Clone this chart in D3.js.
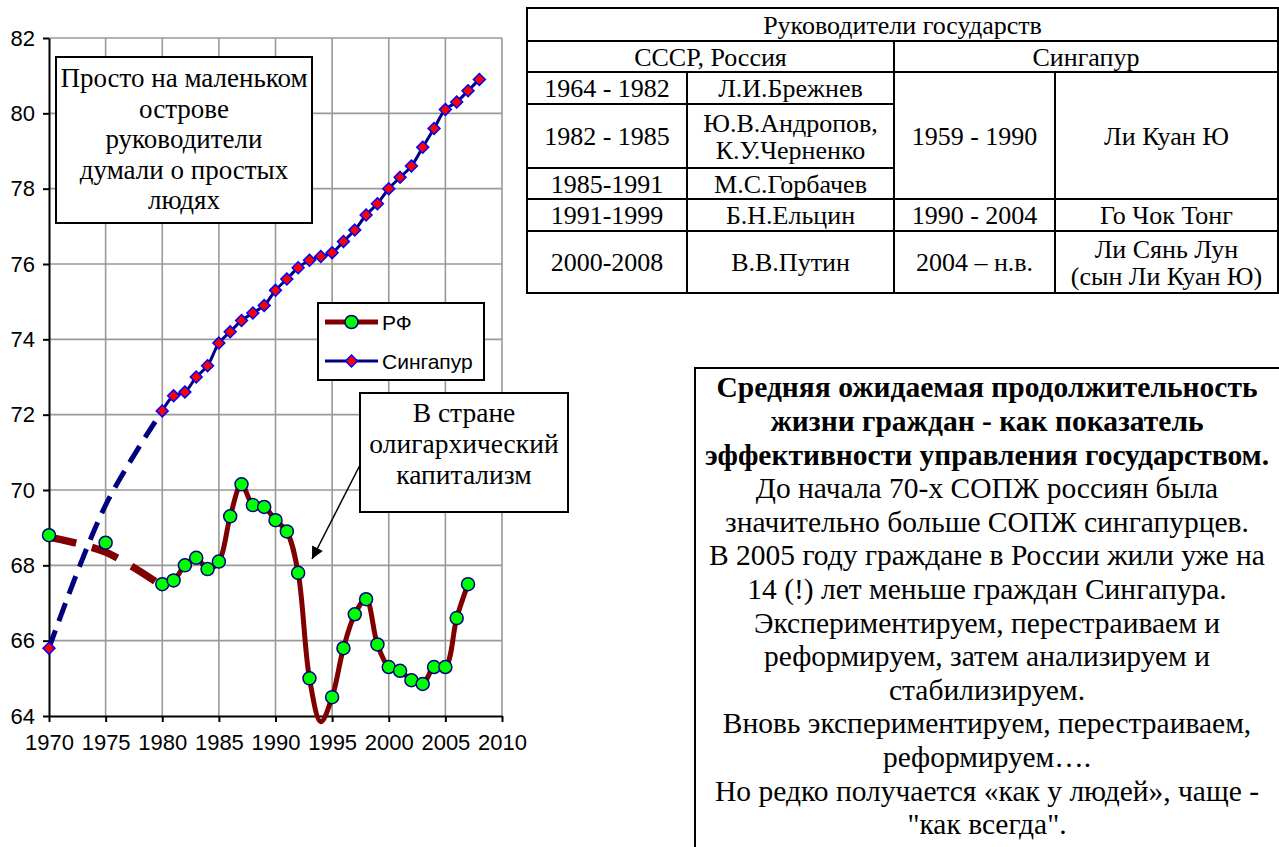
<!DOCTYPE html>
<html>
<head>
<meta charset="utf-8">
<script src="https://cdn.jsdelivr.net/npm/d3@7"></script>
<style>
  body { margin: 0; background: #fff; }
  svg { display: block; }
</style>
</head>
<body>
<script>
// --- data ---
var rfYears = [1980, 1981, 1982, 1983, 1984, 1985, 1986, 1987, 1988, 1989, 1990, 1991, 1992, 1993,
  1994, 1995, 1996, 1997, 1998, 1999, 2000, 2001, 2002, 2003, 2004, 2005, 2006, 2007];
var rfValues = [67.5, 67.6, 68.0, 68.2, 67.9, 68.1, 69.3, 70.15, 69.6, 69.55, 69.2, 68.9, 67.8, 65.0,
  63.85, 64.5, 65.8, 66.7, 67.1, 65.9, 65.3, 65.2, 64.95, 64.85, 65.3, 65.3, 66.6, 67.5];
var rfEarlyYears = [1970, 1975];
var rfEarlyValues = [68.8, 68.6];
var rfTrendYears = [1970, 1975, 1980];
var rfTrendValues = [68.75, 68.35, 67.45];

var sgYears = [1980, 1981, 1982, 1983, 1984, 1985, 1986, 1987, 1988, 1989, 1990, 1991, 1992, 1993,
  1994, 1995, 1996, 1997, 1998, 1999, 2000, 2001, 2002, 2003, 2004, 2005, 2006, 2007, 2008];
var sgValues = [72.1, 72.5, 72.6, 73.0, 73.3, 73.9, 74.2, 74.5, 74.7, 74.9, 75.3, 75.6, 75.9, 76.1,
  76.2, 76.3, 76.6, 76.9, 77.3, 77.6, 78.0, 78.3, 78.6, 79.1, 79.6, 80.1, 80.3, 80.6, 80.9];
var sgEarlyYears = [1970];
var sgEarlyValues = [65.8];
var sgTrendYears = [1970, 1975, 1980];
var sgTrendValues = [65.8, 69.6, 72.1];

var seriesNames = ['РФ', 'Сингапур'];
var xTicks = [1970, 1975, 1980, 1985, 1990, 1995, 2000, 2005, 2010];
var yTicks = [64, 66, 68, 70, 72, 74, 76, 78, 80, 82];

var islandNote = ['Просто на маленьком', 'острове', 'руководители', 'думали о простых', 'людях'];
var oligarchNote = ['В стране', 'олигархический', 'капитализм'];
var summaryBold = ['Средняя ожидаемая продолжительность', 'жизни граждан - как показатель',
  'эффективности управления государством.'];
var summaryText = ['До начала 70-х СОПЖ россиян была', 'значительно больше СОПЖ сингапурцев.',
  'В 2005 году граждане в России жили уже на', '14 (!) лет меньше граждан Сингапура.',
  'Экспериментируем, перестраиваем и', 'реформируем, затем анализируем и', 'стабилизируем.',
  'Вновь экспериментируем, перестраиваем,', 'реформируем….',
  'Но редко получается «как у людей», чаще -', '"как всегда".'];

var tableTitle = 'Руководители государств';
var tableCountries = ['СССР, Россия', 'Сингапур'];
// [column from, column to, row from, row to, lines]
var tableCells = [
  [0, 1, 2, 3, ['1964 - 1982']], [1, 2, 2, 3, ['Л.И.Брежнев']],
  [0, 1, 3, 4, ['1982 - 1985']], [1, 2, 3, 4, ['Ю.В.Андропов,', 'К.У.Черненко']],
  [0, 1, 4, 5, ['1985-1991']], [1, 2, 4, 5, ['М.С.Горбачев']],
  [2, 3, 2, 5, ['1959 - 1990']], [3, 4, 2, 5, ['Ли Куан Ю']],
  [0, 1, 5, 6, ['1991-1999']], [1, 2, 5, 6, ['Б.Н.Ельцин']],
  [2, 3, 5, 6, ['1990 - 2004']], [3, 4, 5, 6, ['Го Чок Тонг']],
  [0, 1, 6, 7, ['2000-2008']], [1, 2, 6, 7, ['В.В.Путин']],
  [2, 3, 6, 7, ['2004 – н.в.']], [3, 4, 6, 7, ['Ли Сянь Лун', '(сын Ли Куан Ю)']]
];

var SANS = '"Liberation Sans", Arial, sans-serif';
var SERIF = '"Liberation Serif", "Times New Roman", serif';
var RF_COLOR = '#800000';
var SG_COLOR = '#000080';

function zip(years, values) {
  return years.map(function(yr, i) { return { year: yr, value: values[i] }; });
}

var svg = d3.select('body').append('svg')
  .attr('width', 1279)
  .attr('height', 847);

var x = d3.scaleLinear().domain([1970, 2010]).range([49, 502]);
var y = d3.scaleLinear().domain([64, 82]).range([716, 38]);

// grid
var grid = svg.append('g').attr('stroke', '#999').attr('stroke-width', 1.6);
grid.selectAll('.vg').data(xTicks.slice(1)).enter().append('line')
  .attr('x1', function(d) { return x(d); })
  .attr('x2', function(d) { return x(d); })
  .attr('y1', y(82)).attr('y2', y(64));
grid.selectAll('.hg').data(yTicks.slice(1)).enter().append('line')
  .attr('x1', x(1970)).attr('x2', x(2010))
  .attr('y1', function(d) { return y(d); })
  .attr('y2', function(d) { return y(d); });

// axes
var yAxis = d3.axisLeft(y).tickValues(yTicks).tickSize(6).tickSizeOuter(0).tickPadding(8);
var xAxis = d3.axisBottom(x).tickValues(xTicks).tickFormat(d3.format('d'))
  .tickSize(6).tickSizeOuter(0).tickPadding(12);

svg.append('g').attr('class', 'y axis')
  .attr('transform', 'translate(' + x(1970) + ',0)')
  .call(yAxis);
svg.append('g').attr('class', 'x axis')
  .attr('transform', 'translate(0,' + y(64) + ')')
  .call(xAxis);

svg.selectAll('.axis')
  .attr('font-family', SANS)
  .attr('font-size', 22);
svg.selectAll('.axis text').attr('fill', '#000');
svg.selectAll('.axis path, .axis line').attr('stroke', '#000').attr('stroke-width', 2);

// lines
var line = d3.line()
  .x(function(d) { return x(d.year); })
  .y(function(d) { return y(d.value); })
  .curve(d3.curveCatmullRom.alpha(0.5));

svg.append('path').datum(zip(sgTrendYears, sgTrendValues))
  .attr('d', line).attr('fill', 'none')
  .attr('stroke', SG_COLOR).attr('stroke-width', 5)
  .attr('stroke-dasharray', '19,10');

svg.append('path').datum(zip(rfTrendYears, rfTrendValues))
  .attr('d', line).attr('fill', 'none')
  .attr('stroke', RF_COLOR).attr('stroke-width', 7.5)
  .attr('stroke-dasharray', '28,16');

svg.append('path').datum(zip(sgYears, sgValues))
  .attr('d', line).attr('fill', 'none')
  .attr('stroke', SG_COLOR).attr('stroke-width', 3);

svg.append('path').datum(zip(rfYears, rfValues))
  .attr('d', line).attr('fill', 'none')
  .attr('stroke', RF_COLOR).attr('stroke-width', 5)
  .attr('stroke-linejoin', 'round');

// markers (points below the axis minimum are hidden, as in the source)
var diamond = d3.symbol().type(d3.symbolDiamond2).size(90);

function inDomain(d) { return d.value >= 64 && d.value <= 82; }

svg.append('g').selectAll('path')
  .data(zip(sgEarlyYears, sgEarlyValues).concat(zip(sgYears, sgValues)).filter(inDomain))
  .enter().append('path')
  .attr('d', diamond)
  .attr('transform', function(d) { return 'translate(' + x(d.year) + ',' + y(d.value) + ')'; })
  .attr('fill', '#ff0000').attr('stroke', '#0000ff').attr('stroke-width', 1.5);

svg.append('g').selectAll('circle')
  .data(zip(rfEarlyYears, rfEarlyValues).concat(zip(rfYears, rfValues)).filter(inDomain))
  .enter().append('circle')
  .attr('cx', function(d) { return x(d.year); })
  .attr('cy', function(d) { return y(d.value); })
  .attr('r', 6.5)
  .attr('fill', '#00ff00').attr('stroke', SG_COLOR).attr('stroke-width', 1.5);

// legend
var legend = svg.append('g').attr('transform', 'translate(318,303)');
legend.append('rect').attr('width', 166).attr('height', 77)
  .attr('fill', '#fff').attr('stroke', '#000').attr('stroke-width', 2);
var items = legend.selectAll('.item').data(seriesNames).enter().append('g')
  .attr('transform', function(d, i) { return 'translate(0,' + (19 + i * 39) + ')'; });
items.append('line').attr('x1', 7).attr('x2', 60).attr('y1', 0).attr('y2', 0)
  .attr('stroke', function(d, i) { return i === 0 ? RF_COLOR : SG_COLOR; })
  .attr('stroke-width', function(d, i) { return i === 0 ? 5 : 3; });
items.each(function(d, i) {
  var g = d3.select(this);
  if (i === 0) {
    g.append('circle').attr('cx', 33.5).attr('cy', 0).attr('r', 6.5)
      .attr('fill', '#00ff00').attr('stroke', SG_COLOR).attr('stroke-width', 1.5);
  } else {
    g.append('path').attr('d', diamond).attr('transform', 'translate(33.5,0)')
      .attr('fill', '#ff0000').attr('stroke', '#0000ff').attr('stroke-width', 1.5);
  }
});
items.append('text').attr('x', 64).attr('dy', '0.36em')
  .attr('font-family', SANS).attr('font-size', 21)
  .text(function(d) { return d; });

// note boxes
function noteBox(x0, y0, w, h, lines, cx, firstY, step, size) {
  var g = svg.append('g');
  g.append('rect').attr('x', x0).attr('y', y0).attr('width', w).attr('height', h)
    .attr('fill', '#fff').attr('stroke', '#000').attr('stroke-width', 2);
  g.selectAll('text').data(lines).enter().append('text')
    .attr('x', cx)
    .attr('y', function(d, i) { return firstY + i * step; })
    .attr('dy', '0.35em')
    .attr('text-anchor', 'middle')
    .attr('font-family', SERIF).attr('font-size', size)
    .text(function(d) { return d; });
  return g;
}

noteBox(56, 57, 256, 166, islandNote, 184, 78, 30.5, 27);
noteBox(360, 393, 208, 119, oligarchNote, 464, 412, 31, 27.5);

// arrow
var defs = svg.append('defs');
defs.append('marker').attr('id', 'arrow')
  .attr('viewBox', '0 0 10 10').attr('refX', 10).attr('refY', 5)
  .attr('markerUnits', 'userSpaceOnUse')
  .attr('markerWidth', 16).attr('markerHeight', 12)
  .attr('orient', 'auto')
  .append('path').attr('d', 'M0,0L10,5L0,10z').attr('fill', '#000');
svg.append('line').attr('x1', 360).attr('y1', 465).attr('x2', 312).attr('y2', 559)
  .attr('stroke', '#000').attr('stroke-width', 1.5).attr('marker-end', 'url(#arrow)');

// leaders table
var colX = [527, 687, 894, 1055, 1278];
var rowY = [8, 41, 72, 104, 168, 199, 231, 293];
var table = svg.append('g').attr('font-family', SERIF).attr('font-size', 26);
var cells = [[0, 4, 0, 1, [tableTitle]], [0, 2, 1, 2, [tableCountries[0]]], [2, 4, 1, 2, [tableCountries[1]]]]
  .concat(tableCells);
var cell = table.selectAll('.cell').data(cells).enter().append('g');
cell.append('rect')
  .attr('x', function(d) { return colX[d[0]]; })
  .attr('y', function(d) { return rowY[d[2]]; })
  .attr('width', function(d) { return colX[d[1]] - colX[d[0]]; })
  .attr('height', function(d) { return rowY[d[3]] - rowY[d[2]]; })
  .attr('fill', 'none').attr('stroke', '#000').attr('stroke-width', 2);
cell.each(function(d) {
  var cx = (colX[d[0]] + colX[d[1]]) / 2;
  var cy = (rowY[d[2]] + rowY[d[3]]) / 2;
  var n = d[4].length;
  d3.select(this).selectAll('text').data(d[4]).enter().append('text')
    .attr('x', cx)
    .attr('y', function(t, i) { return cy + (i - (n - 1) / 2) * 27; })
    .attr('dy', '0.35em')
    .attr('text-anchor', 'middle')
    .text(function(t) { return t; });
});

// summary box
var summary = svg.append('g').attr('font-family', SERIF).attr('font-size', 29.5).attr('text-anchor', 'middle');
summary.append('rect').attr('x', 695).attr('y', 368).attr('width', 640).attr('height', 520)
  .attr('fill', '#fff').attr('stroke', '#000').attr('stroke-width', 2);
summary.selectAll('.sl').data(summaryBold.concat(summaryText)).enter().append('text')
  .attr('x', 987)
  .attr('y', function(d, i) { return 387 + i * 33.6; })
  .attr('dy', '0.35em')
  .attr('font-weight', function(d, i) { return i < summaryBold.length ? 'bold' : 'normal'; })
  .text(function(d) { return d; });
</script>
</body>
</html>
